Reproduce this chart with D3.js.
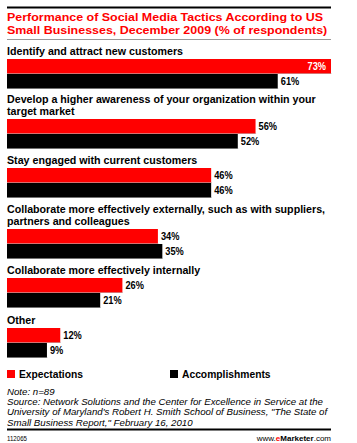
<!DOCTYPE html>
<html><head><meta charset="utf-8">
<script src="https://cdn.jsdelivr.net/npm/d3@7"></script>
<style>body{margin:0;background:#fff}svg{display:block}</style>
</head><body><svg id="c" width="357" height="443"></svg>
<script>
const titleLines = ["Performance of Social Media Tactics According to US", "Small Businesses, December 2009 (% of respondents)"];
const categories = [
  ["Identify and attract new customers"],
  ["Develop a higher awareness of your organization within your", "target market"],
  ["Stay engaged with current customers"],
  ["Collaborate more effectively externally, such as with suppliers,", "partners and colleagues"],
  ["Collaborate more effectively internally"],
  ["Other"]
];
const expectations = [73, 56, 46, 34, 26, 12];
const accomplishments = [61, 52, 46, 35, 21, 9];
const seriesNames = ["Expectations", "Accomplishments"];
const seriesColors = ["#ff0000", "#000000"];
const noteLines = ["Note: n=89",
  "Source: Network Solutions and the Center for Excellence in Service at the",
  "University of Maryland's Robert H. Smith School of Business, \"The State of",
  "Small Business Report,\" February 16, 2010"];
const chartId = "112065";

const svg = d3.select("#c");
const FONT = "'Liberation Sans', Arial, sans-serif";
const L = 7, R = 331;
const x = d3.scaleLinear().domain([0, 73]).range([L, R]);

// condense a selection of texts by a factor
function condense(sel, factor) {
  sel.each(function() {
    const w = this.getComputedTextLength();
    d3.select(this).attr("textLength", w * factor).attr("lengthAdjust", "spacingAndGlyphs");
  });
}
function factorFor(node, target) { return target / node.getComputedTextLength(); }

// top rule
svg.append("rect").attr("x", L).attr("y", 6.5).attr("width", R - L).attr("height", 2).attr("fill", "#000");
const tt = svg.selectAll("text.title").data(titleLines).join("text").attr("class", "title")
  .attr("x", L).attr("y", (d, i) => 21.3 + i * 12.9)
  .attr("font-family", FONT).attr("font-weight", "bold").attr("font-size", 11.4)
  .attr("fill", "#ff0000").text(d => d);
condense(tt, factorFor(tt.node(), 316));
svg.append("rect").attr("x", L).attr("y", 39).attr("width", R - L).attr("height", 1).attr("fill", "#999");

const barTops = [59, 119, 168, 229, 278, 328];
const barH = 15;
const lineH = 12.4;
const g = svg.selectAll("g.grp").data(categories).join("g").attr("class", "grp");
g.each(function(lines, i) {
  const gg = d3.select(this);
  const top = barTops[i];
  const n = lines.length;
  lines.forEach((t, j) => {
    gg.append("text").attr("class", "cat").attr("x", L).attr("y", top - 4 - (n - 1 - j) * lineH)
      .attr("font-family", FONT).attr("font-weight", "bold").attr("font-size", 10)
      .attr("fill", "#000").text(t);
  });
  const vals = [expectations[i], accomplishments[i]];
  vals.forEach((v, k) => {
    const y0 = top + k * barH;
    gg.append("rect").attr("x", x(0)).attr("y", y0).attr("width", x(v) - x(0)).attr("height", barH)
      .attr("fill", seriesColors[k]);
    gg.append("rect").attr("x", x(0)).attr("y", y0 + barH - 0.6).attr("width", x(v) - x(0) + 0.6).attr("height", 0.6)
      .attr("fill", "#bbb");
    const inside = x(v) > R - 25;
    gg.append("text").attr("class", "val")
      .attr("x", inside ? x(v) - 5 : x(v) + 3)
      .attr("y", y0 + 11)
      .attr("text-anchor", inside ? "end" : "start")
      .attr("font-family", FONT).attr("font-weight", "bold").attr("font-size", 10)
      .attr("fill", inside ? "#fff" : "#000").text(v + "%");
  });
});
const cats = svg.selectAll("text.cat");
condense(cats, factorFor(cats.node(), 176));
const vl = svg.selectAll("text.val");
condense(vl, factorFor(vl.node(), 18.5));

// legend
const legX = [7, 170];
seriesNames.forEach((s, k) => {
  svg.append("rect").attr("x", legX[k]).attr("y", 370).attr("width", 8).attr("height", 8).attr("fill", seriesColors[k]);
  svg.append("text").attr("class", "leg").attr("x", legX[k] + 12).attr("y", 377.5)
    .attr("font-family", FONT).attr("font-weight", "bold").attr("font-size", 10).attr("fill", "#000").text(s);
});
const lg = svg.selectAll("text.leg");
condense(lg, factorFor(lg.node(), 64));

// notes
const nt = svg.selectAll("text.note").data(noteLines).join("text").attr("class", "note")
  .attr("x", L).attr("y", (d, i) => 394.5 + i * 10.4)
  .attr("font-family", FONT).attr("font-style", "italic").attr("font-size", 9)
  .attr("fill", "#000").text(d => d);
condense(nt, factorFor(nt.nodes()[1], 316));

svg.append("rect").attr("x", L).attr("y", 428.5).attr("width", R - L).attr("height", 2).attr("fill", "#000");
const idt = svg.append("text").attr("x", L).attr("y", 440.5).attr("font-family", FONT).attr("font-size", 7.5).attr("fill", "#000").text(chartId);
condense(idt, factorFor(idt.node(), 20));
const site = svg.append("text").attr("x", R).attr("y", 440.5).attr("text-anchor", "end")
  .attr("font-family", FONT).attr("font-size", 8).attr("fill", "#000");
site.append("tspan").text("www.");
site.append("tspan").attr("fill", "#ff0000").attr("font-weight", "bold").text("e");
site.append("tspan").attr("font-weight", "bold").text("Marketer");
site.append("tspan").text(".com");
</script></body></html>
